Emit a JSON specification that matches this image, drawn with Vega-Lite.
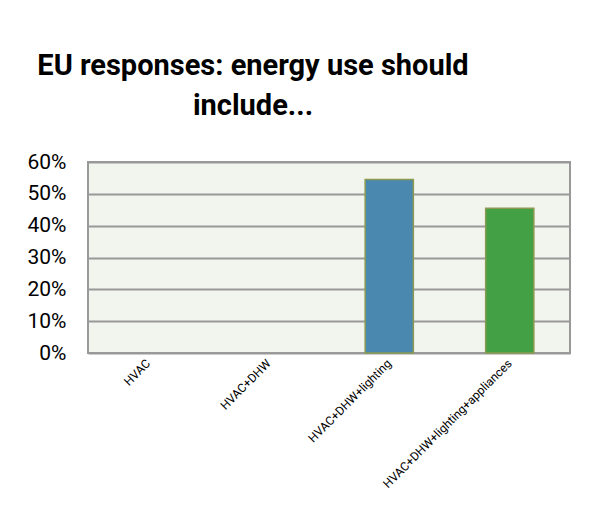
{
  "$schema": "https://vega.github.io/schema/vega-lite/v6.json",
  "autosize": "none",
  "width": 482,
  "height": 191,
  "padding": {"left": 88, "top": 162, "right": 25, "bottom": 162},
  "background": "white",
  "title": {
    "text": ["EU responses: energy use should", "include..."],
    "font": "Roboto",
    "fontWeight": "bold",
    "fontSize": 29,
    "lineHeight": 40,
    "color": "black",
    "anchor": "middle",
    "dx": -76,
    "offset": 30
  },
  "data": {
    "values": [
      {"category": "HVAC", "share": 0},
      {"category": "HVAC+DHW", "share": 0},
      {"category": "HVAC+DHW+lighting", "share": 0.545},
      {"category": "HVAC+DHW+lighting+appliances", "share": 0.455}
    ]
  },
  "mark": {"type": "bar", "stroke": "#8a9a50"},
  "encoding": {
    "x": {
      "field": "category",
      "type": "nominal",
      "sort": null,
      "scale": {"paddingInner": 0.6, "paddingOuter": 0.3},
      "axis": {
        "title": null,
        "labelAngle": -45,
        "labelAlign": "right",
        "labelBaseline": "middle",
        "labelFont": "Roboto",
        "labelFontSize": 12,
        "labelColor": "black",
        "labelPadding": 8,
        "labelLimit": 400,
        "ticks": false,
        "domain": false
      }
    },
    "y": {
      "field": "share",
      "type": "quantitative",
      "scale": {"domain": [0, 0.6]},
      "axis": {
        "title": null,
        "format": ".0%",
        "values": [0, 0.1, 0.2, 0.3, 0.4, 0.5, 0.6],
        "labelFont": "Roboto",
        "labelFontSize": 21,
        "labelColor": "black",
        "labelPadding": 22,
        "ticks": false,
        "domain": false,
        "gridColor": "#999999",
        "gridWidth": 2
      }
    },
    "color": {
      "field": "category",
      "type": "nominal",
      "sort": null,
      "scale": {"range": ["#4a88b0", "#4a88b0", "#4a88b0", "#44a044"]},
      "legend": null
    },
    "strokeWidth": {
      "condition": {"test": "datum.share > 0", "value": 1.5},
      "value": 0
    }
  },
  "config": {
    "view": {"fill": "#f2f4ee", "stroke": "#999999", "strokeWidth": 2}
  }
}
